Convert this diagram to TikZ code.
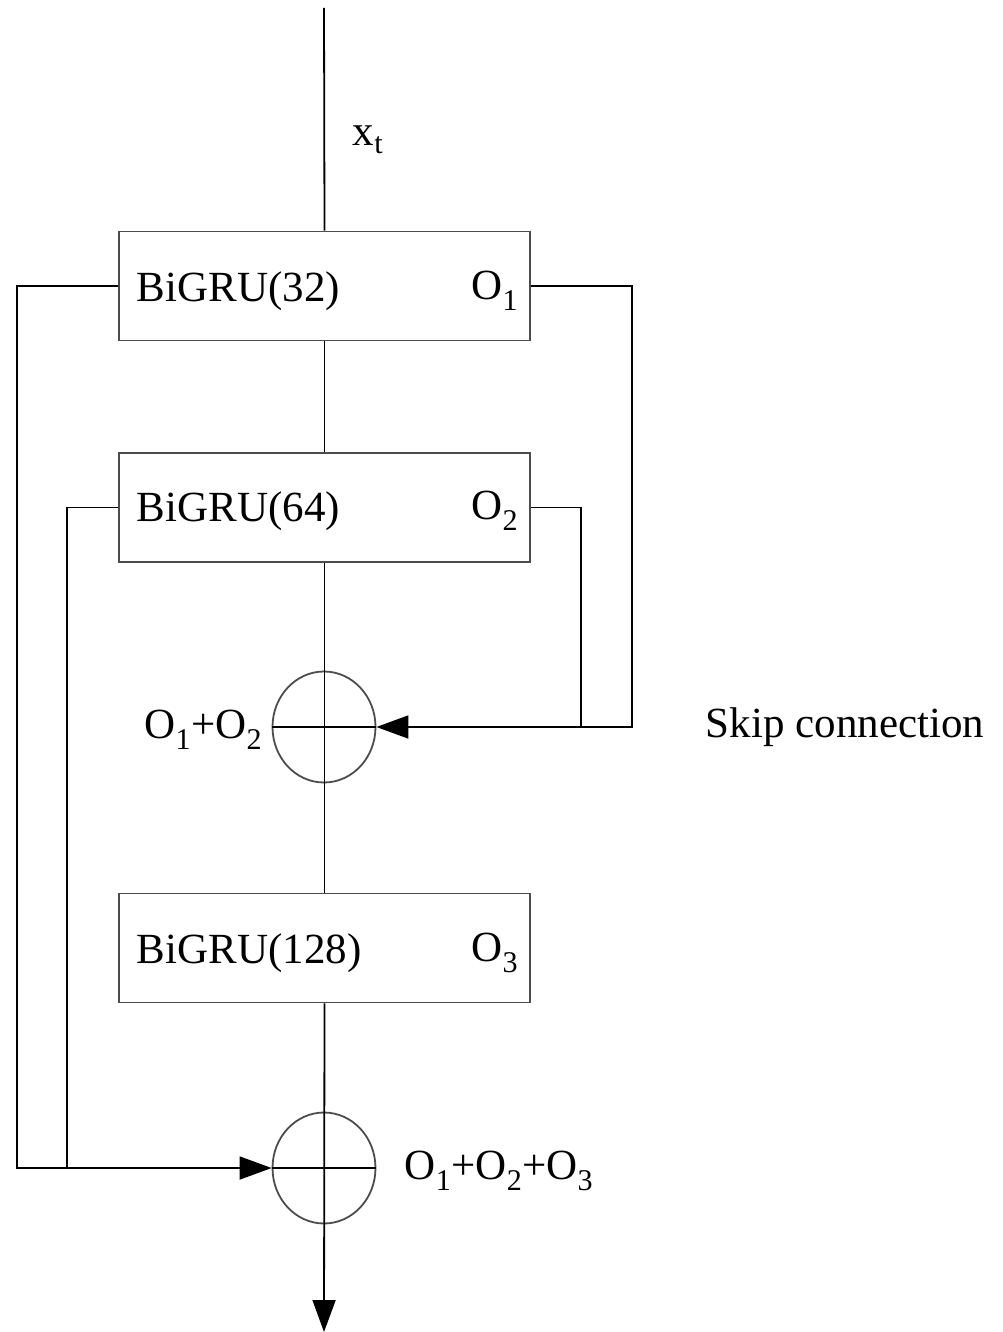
\documentclass[tikz,border=0pt]{standalone}
\usepackage{fontspec}
\setmainfont{Liberation Serif}
\usetikzlibrary{arrows.meta,shapes.geometric}
\begin{document}
\begin{tikzpicture}[x=1pt,y=-1pt,
  line width=1.8pt,
  layerbox/.style={draw=black!70,rectangle,minimum width=411pt,minimum height=109pt,inner sep=0pt},
  sumnode/.style={draw=black!70,ellipse,minimum width=103pt,minimum height=111pt,inner sep=0pt},
  lbl/.style={font=\fontsize{43}{50}\selectfont,inner sep=0pt},
  tip/.style={-{Triangle[length=32pt,width=23pt]}}]
\useasboundingbox (0,0) rectangle (1002,1332);
\node[layerbox] (b1) at (324.5,286) {};
\node[layerbox] (b2) at (324.5,507.5) {};
\node[sumnode] (c1) at (324,727) {};
\node[layerbox] (b3) at (324.5,948) {};
\node[sumnode] (c2) at (324,1168) {};
\coordinate (top) at (324,8);
\coordinate (bot) at (324,1332);
\coordinate (r1) at (632,727);
\coordinate (r2) at (581,727);
\coordinate (l1) at (17,1168);
\coordinate (l2) at (67,1168);
% texts
\node[lbl,anchor=west] (t1) at (136,291) {BiGRU(32)};
\node[lbl,anchor=east] (o1) at (519,291) {O\textsubscript{1}};
\node[lbl,anchor=west] (t2) at (136,511) {BiGRU(64)};
\node[lbl,anchor=east] (o2) at (519,511) {O\textsubscript{2}};
\node[lbl,anchor=west] (t3) at (136,953) {BiGRU(128)};
\node[lbl,anchor=east] (o3) at (519,953) {O\textsubscript{3}};
\node[lbl] (xt) at (368,140) {x\textsubscript{t}};
\node[lbl,anchor=east] (s12) at (263,730) {O\textsubscript{1}+O\textsubscript{2}};
\node[lbl,anchor=west] (s123) at (404,1171) {O\textsubscript{1}+O\textsubscript{2}+O\textsubscript{3}};
\node[lbl,anchor=west] (skip) at (705,727) {Skip connection};
% main trunk
\draw (top) -- (b1.north);
\draw (b1.south) -- (b2.north);
\draw (b2.south) -- (b3.north);
\draw[tip] (b3.south) -- (bot);
\draw (c1.west) -- (c1.east);
\draw (c2.west) -- (c2.east);
% skip connections
\draw[tip] (b1.east) -| (r1) -- (c1.east);
\draw (b2.east) -| (r2);
\draw[tip] (b1.west) -| (l1) -- (c2.west);
\draw (b2.west) -| (l2);
\end{tikzpicture}
\end{document}
